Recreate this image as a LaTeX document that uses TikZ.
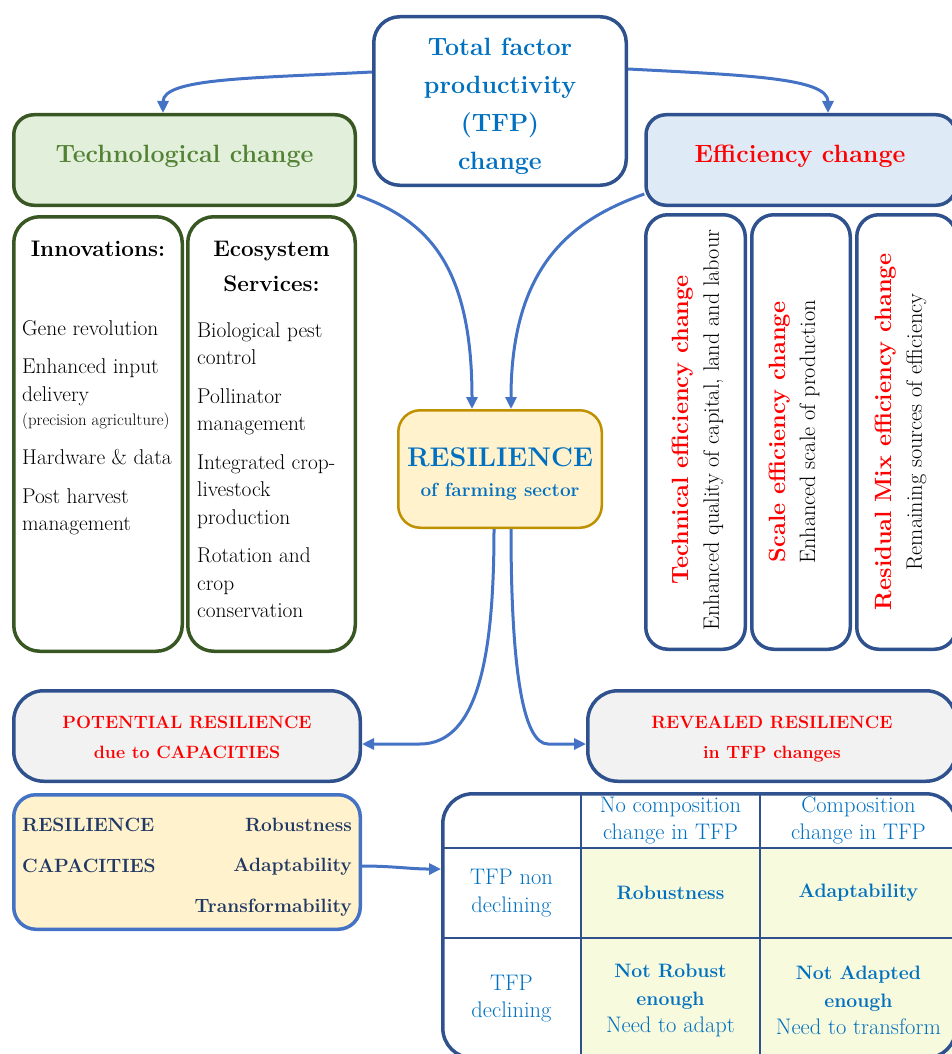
\documentclass[tikz,border=0pt]{standalone}
\usepackage{fontspec}
\usepackage{tikz}
\usetikzlibrary{arrows.meta,positioning}

\definecolor{tfpblue}{RGB}{0,112,192}
\definecolor{edgeblue}{RGB}{47,82,143}
\definecolor{linkblue}{RGB}{68,114,196}
\definecolor{edgegreen}{RGB}{56,87,35}
\definecolor{textgreen}{RGB}{84,130,53}
\definecolor{fillgreen}{RGB}{226,239,218}
\definecolor{fillblue}{RGB}{222,235,247}
\definecolor{fillcream}{RGB}{255,242,204}
\definecolor{edgegold}{RGB}{191,144,0}
\definecolor{fillgrey}{RGB}{242,242,242}
\definecolor{navy}{RGB}{31,56,100}
\definecolor{fillcell}{RGB}{248,250,221}

\newcommand{\bt}[1]{{\fontsize{19.4}{27.5}\selectfont\bfseries #1}}
\newcommand{\rt}[1]{{\fontsize{23.5}{30}\selectfont\bfseries\textcolor{red}{#1}}}

\begin{document}
\begin{tikzpicture}[x=1pt,y=-1pt,>={Triangle[length=12pt,width=11pt]},
		inner sep=0pt,align=center]
	\tikzstyle{rbox}=[draw=edgeblue,line width=3.5pt,rounded corners=26pt,fill=white]
	\tikzstyle{gbox}=[rbox,draw=edgegreen]
	\tikzstyle{link}=[->,draw=linkblue,line width=3pt]
	\tikzstyle{headtxt}=[font=\fontsize{25}{38}\selectfont\bfseries]
	\tikzstyle{titletxt}=[font=\fontsize{22.5}{35}\selectfont\bfseries,anchor=north]
	\tikzstyle{itemtxt}=[font=\fontsize{21.4}{27.5}\selectfont,align=left,anchor=north west]
	\tikzstyle{sidetxt}=[font=\fontsize{22.3}{30}\selectfont,rotate=90]
	\tikzstyle{redtxt}=[font=\fontsize{17.8}{30}\selectfont\bfseries,text=red]
	\tikzstyle{captxt}=[font=\fontsize{19.2}{40.5}\selectfont\bfseries,text=navy]
	\tikzstyle{celltxt}=[font=\fontsize{22.5}{27.5}\selectfont,text=tfpblue]
	\tikzstyle{gridline}=[draw=edgeblue,line width=2.5pt]

	\useasboundingbox (0,0) rectangle (952,1054);

	\node[rbox,minimum width=252.5pt,minimum height=168.5pt] (TFP) at (500,101) {};
	\node[headtxt,text=tfpblue] (TFPt) at (500,106) {Total factor\\productivity\\(TFP)\\change};
	\node[gbox,fill=fillgreen,rounded corners=20pt,minimum width=341.5pt,minimum height=90.5pt] (TC) at (184.5,160) {};
	\node[headtxt,text=textgreen] (TCt) at (184.5,156) {Technological change};
	\node[rbox,fill=fillblue,rounded corners=20pt,minimum width=310pt,minimum height=90.5pt] (EC) at (801,160) {};
	\node[headtxt,text=red] (ECt) at (800,156) {Efficiency change};

	\node[gbox,minimum width=168.5pt,minimum height=434.5pt] (IN) at (98,434) {};
	\node[gbox,minimum width=167.5pt,minimum height=434.5pt,right=2pt of IN] (ES) {};
	\node[titletxt] (INt) at (98,241) {Innovations:};
	\node[titletxt] (ESt) at (271.5,241) {Ecosystem\\Services:};
	\node[itemtxt] (INl) at (22,320) {Gene revolution\\[11pt]Enhanced input\\delivery\\[-3.5pt]{\fontsize{16.7}{18}\selectfont(precision agriculture)}\\[11.5pt]Hardware \& data\\[11.5pt]Post harvest\\management};
	\node[itemtxt] (ESl) at (197,322) {Biological pest\\control\\[11pt]Pollinator\\management\\[11pt]Integrated crop-\\livestock\\production\\[11pt]Rotation and\\crop\\conservation};

	\node[rbox,rounded corners=22pt,minimum width=99.5pt,minimum height=434.5pt] (TE) at (695.5,432) {};
	\node[rbox,rounded corners=22pt,minimum width=98.5pt,minimum height=434.5pt,right=3pt of TE] (SE) {};
	\node[rbox,rounded corners=22pt,minimum width=99.5pt,minimum height=434.5pt,right=3pt of SE] (RM) {};
	\node[sidetxt] (TEt) at (698,430) {\rt{Technical efficiency change}\\Enhanced quality of capital, land and labour};
	\node[sidetxt] (SEt) at (794,432) {\rt{Scale efficiency change}\\Enhanced scale of production};
	\node[sidetxt] (RMt) at (901,432) {\rt{Residual Mix efficiency change}\\Remaining sources of efficiency};

	\node[rbox,fill=fillcream,draw=edgegold,line width=2.5pt,rounded corners=22pt,minimum width=203.5pt,minimum height=117.5pt] (R) at (500,469) {};
	\node[text=tfpblue,font=\fontsize{27}{30}\selectfont\bfseries] (Rt) at (500,474) {RESILIENCE\\{\fontsize{19}{30}\selectfont of farming sector}};

	\node[rbox,redtxt,fill=fillgrey,rounded corners=30pt,minimum width=346.5pt,minimum height=90.5pt] (PR) at (187,736) {\rule{0pt}{16pt}POTENTIAL RESILIENCE\\due to CAPACITIES};
	\node[rbox,redtxt,fill=fillgrey,rounded corners=30pt,minimum width=368.25pt,minimum height=90.5pt] (RR) at (771.9,736) {\rule{0pt}{18pt}REVEALED RESILIENCE\\in TFP changes};

	\node[rbox,draw=linkblue,fill=fillcream,rounded corners=22pt,minimum width=346.5pt,minimum height=134.5pt] (RC) at (187,862) {};
	\node[captxt,align=left,anchor=north west] (RCl) at (22,818) {RESILIENCE\\CAPACITIES};
	\node[captxt,align=right,anchor=north east] (RCr) at (352,817.5) {Robustness\\Adaptability\\Transformability};

	\node[celltxt,fill=fillcell,minimum width=179pt,minimum height=90pt] (D11) at (670.5,893) {\bt{Robustness}};
	\node[celltxt,fill=fillcell,minimum width=196pt,minimum height=90pt,right=0pt of D11] (D12) {\bt{Adaptability}};
	\node[celltxt,fill=fillcell,minimum width=179pt,minimum height=120pt,below=0pt of D11] (D21) {\rule{0pt}{18pt}\bt{Not Robust}\\\bt{enough}\\Need to adapt};
	\node[celltxt,fill=fillcell,minimum width=196pt,minimum height=120pt,below=0pt of D12] (D22) {\rule{0pt}{18pt}\bt{Not Adapted}\\\bt{enough}\\Need to transform};
	\node[celltxt,minimum width=179pt,minimum height=54.25pt,above=0pt of D11] (H1) {No composition\\change in TFP};
	\node[celltxt,minimum width=196pt,minimum height=54.25pt,above=0pt of D12] (H2) {Composition\\change in TFP};
	\node[celltxt,minimum width=138.25pt,minimum height=90pt,left=0pt of D11] (L1) {TFP non\\declining};
	\node[celltxt,minimum width=138.25pt,minimum height=120pt,left=0pt of D21] (L2) {TFP\\declining};
	\draw[gridline] (H1.north west) -- (D21.south west)
		(H1.north east) -- (D22.south west)
		(L1.north west) -- (D12.north east)
		(L2.north west) -- (D22.north east);
	\node[rbox,fill=none,rounded corners=30pt,minimum width=513.25pt,minimum height=264.25pt] (T) at (699.4,925.9) {};

	\draw[link] ([yshift=29pt]TFP.west) to[out=183,in=90,out distance=120pt,in distance=35pt] ([xshift=-21.5pt]TC.north);
	\draw[link] ([yshift=32pt]TFP.east) to[out=-3,in=90,out distance=120pt,in distance=35pt] ([xshift=27pt]EC.north);
	\draw[link] ([yshift=-35pt]TC.east) to[out=-20,in=90,out distance=70pt,in distance=150pt] ([xshift=-28pt]R.north);
	\draw[link] ([yshift=-34pt]EC.west) to[out=200,in=90,out distance=70pt,in distance=150pt] ([xshift=11pt]R.north);
	\draw[link] ([xshift=-6pt]R.south) to[out=-90,in=0,out distance=120pt,in distance=60pt] ([xshift=58pt,yshift=-8pt]PR.east) -- ([yshift=-8pt]PR.east);
	\draw[link] ([xshift=11pt]R.south) to[out=-90,in=180,out distance=140pt,in distance=25pt] ([xshift=-38pt,yshift=-8pt]RR.west) -- ([yshift=-8pt]RR.west);
	\draw[link] ([yshift=-4pt]RC.east) to[out=0,in=180] ([yshift=-77pt]T.north west);
\end{tikzpicture}
\end{document}
